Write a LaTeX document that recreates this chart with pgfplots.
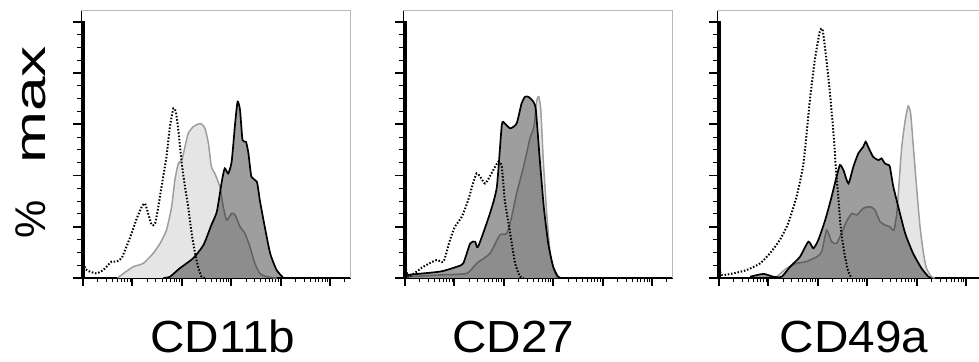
\documentclass[border=0pt]{standalone}
\usepackage{pgfplots}
\pgfplotsset{compat=1.18}
\usepackage{pgfplotstable}
\usepackage{fontspec}
\setmainfont{Liberation Sans}
\definecolor{lightfill}{gray}{0.90}
\definecolor{lightline}{gray}{0.62}
\definecolor{boxline}{gray}{0.72}

% ---------- CD11b ----------
\pgfplotstableread{
x y
0.0 7
0.05 3.5
0.142 2.5
0.277 1.8
0.41 3.1
0.51 5.1
0.58 6.4
0.68 6.4
0.78 7.7
0.88 12.2
0.985 17.4
1.09 23.3
1.19 27.8
1.255 29.1
1.32 25.2
1.39 20.7
1.46 21.3
1.525 27.8
1.59 35.6
1.69 47.3
1.76 59.0
1.83 66.2
1.88 64.9
1.93 57.7
2.0 44.7
2.065 35.6
2.13 27.8
2.2 17.4
2.27 9.6
2.33 4.4
2.4 0.5
2.47 0
}\aDot
\pgfplotstableread{
x y
0.70 0
0.82 1.8
1.02 4.4
1.22 5.7
1.42 9.6
1.56 13.5
1.69 18.7
1.795 27.8
1.86 38.2
1.93 44.7
2.0 46.0
2.065 51.2
2.13 56.4
2.23 59.0
2.335 60.1
2.40 60.1
2.47 58.4
2.54 52.5
2.6 43.4
2.67 40.8
2.77 35.6
2.84 27.8
2.91 22.6
3.01 25.2
3.08 24.6
3.18 20.0
3.28 17.4
3.38 12.2
3.48 5.7
3.58 1.8
3.72 0.5
3.92 0
}\aLight
\pgfplotstableread{
x y
1.63 0
1.76 0.5
1.96 3.8
2.23 7.7
2.44 12.9
2.6 20.7
2.71 25.9
2.81 37.6
2.87 42.8
2.94 40.8
3.01 45.4
3.08 60.3
3.13 68.8
3.18 65.5
3.23 53.8
3.30 53.2
3.35 48.6
3.41 39.5
3.52 37.6
3.58 30.4
3.68 20.0
3.79 9.6
3.92 3.1
4.06 0
}\aDark

% ---------- CD27 ----------
\pgfplotstableread{
x y
0.0 6
0.07 0.5
0.37 4.4
0.64 7.0
0.78 6.4
0.91 14.8
1.01 20.0
1.15 23.9
1.28 30.4
1.45 40.8
1.62 36.9
1.75 40.8
1.89 45.4
1.96 43.4
2.02 30.4
2.13 17.4
2.23 5.7
2.33 0.5
2.40 0
}\bDot
\pgfplotstableread{
x y
0.03 0.5
0.71 1.2
1.25 1.8
1.45 5.7
1.72 9.6
1.92 16.8
2.06 17.4
2.16 23.9
2.26 33.0
2.40 43.4
2.53 54.5
2.61 59.0
2.67 69.4
2.71 70.7
2.75 65.5
2.80 46.0
2.87 25.2
2.94 9.6
3.04 1.8
3.10 0
}\bLight
\pgfplotstableread{
x y
0.03 1.2
0.71 2.5
1.05 4.4
1.18 5.7
1.32 13.5
1.42 14.2
1.48 12.2
1.72 25.2
1.86 35.6
1.96 59.7
2.02 60.3
2.13 58.4
2.26 60.3
2.36 68.1
2.43 70.7
2.50 70.7
2.60 68.8
2.65 65.5
2.73 46.0
2.81 27.8
2.90 13.5
3.0 4.4
3.10 0.5
3.17 0
}\bDark

% ---------- CD49a ----------
\pgfplotstableread{
x y
0.0 5
0.05 1.2
0.29 1.8
0.56 3.1
0.83 5.7
1.03 9.6
1.23 14.8
1.40 21.3
1.57 31.7
1.71 44.7
1.84 69.4
1.94 85.0
2.04 96.1
2.10 96.7
2.19 82.6
2.26 69.4
2.33 53.8
2.36 44.7
2.42 30.4
2.47 18.7
2.54 9.6
2.61 3.1
2.68 0
}\cDot
\pgfplotstableread{
x y
1.17 0.5
1.37 3.8
1.57 5.7
1.77 6.4
1.98 8.3
2.08 10.3
2.18 18.7
2.28 14.2
2.38 13.5
2.48 17.4
2.58 22.0
2.69 25.2
2.79 24.6
2.92 27.2
3.06 27.8
3.16 26.5
3.26 22.0
3.36 20.7
3.46 20.0
3.54 18.7
3.60 25.2
3.65 38.2
3.70 51.2
3.77 61.6
3.83 67.1
3.88 64.2
3.93 52.5
4.0 35.6
4.07 20.0
4.14 9.6
4.20 3.8
4.30 0.5
4.37 0
}\cLight
\pgfplotstableread{
x y
0.63 0.5
0.90 1.6
1.10 0.5
1.27 0.5
1.44 4.4
1.64 8.3
1.81 14.2
1.91 11.6
2.01 14.8
2.15 22.6
2.28 31.7
2.38 39.5
2.45 44.1
2.52 42.1
2.62 36.9
2.72 43.4
2.82 48.6
2.92 51.2
2.97 53.2
3.02 51.2
3.12 47.3
3.23 46.0
3.29 46.7
3.36 44.7
3.43 44.1
3.46 43.4
3.53 35.6
3.63 27.8
3.77 17.4
3.93 9.6
4.10 3.8
4.24 0.5
4.30 0
}\cDark

\pgfplotsset{
  flow/.style={
    scale only axis, width=269.7bp, height=268bp,
    xmin=-0.04, xmax=5.42, ymin=0, ymax=104.6,
    clip=false,
    axis lines*=left, axis line style={-},
    x axis line style={black, line width=1.3bp},
    y axis line style={black, line width=1bp},
    xtick={0,1,2,3,4,5},
    minor xtick={0.301,0.477,0.602,0.699,0.778,0.845,0.903,0.954,
      1.301,1.477,1.602,1.699,1.778,1.845,1.903,1.954,
      2.301,2.477,2.602,2.699,2.778,2.845,2.903,2.954,
      3.301,3.477,3.602,3.699,3.778,3.845,3.903,3.954,
      4.301,4.477,4.602,4.699,4.778,4.845,4.903,4.954,5.301},
    ytick={0,20,40,60,80,100}, minor y tick num=3,
    xticklabels={}, yticklabels={},
    tick align=outside,
    major tick length=8bp, minor tick length=4.5bp,
    major tick style={black, line width=1.9bp},
    minor tick style={black, line width=1bp},
  },
  lightfillst/.style={fill=lightfill, draw=none, smooth, tension=0.35},
  darkfillst/.style={fill=black, fill opacity=0.38, draw=none, smooth, tension=0.35},
  lightlinest/.style={draw=lightline, line width=1.5bp, smooth, tension=0.35},
  darklinest/.style={draw=black, line width=1.7bp, smooth, tension=0.35},
  dotst/.style={draw=black, line width=2bp, dash pattern=on 1.5bp off 1.8bp, smooth, tension=0.35},
}

\newcommand{\flowpanel}[3]{%
  \addplot[lightfillst] table {#2} \closedcycle;
  \addplot[lightlinest] table {#2};
  \addplot[darkfillst] table {#3} \closedcycle;
  \addplot[darklinest] table {#3};
  \addplot[dotst] table {#1};
  \addplot[black, line width=3.2bp] coordinates {(0,0) (0,100.5)};
  \draw[boxline, line width=0.9bp] (rel axis cs:0,1) -- (rel axis cs:1,1) -- (rel axis cs:1,0);
}

\begin{document}
\begin{tikzpicture}
\path[use as bounding box] (0,0) rectangle (979bp,362bp);
\clip (0,0) rectangle (979bp,362bp);

\begin{axis}[flow, at={(81bp,84bp)}, anchor=south west]
\flowpanel{\aDot}{\aLight}{\aDark}
\end{axis}

\begin{axis}[flow, at={(403bp,84bp)}, anchor=south west]
\flowpanel{\bDot}{\bLight}{\bDark}
\end{axis}

\begin{axis}[flow, at={(717bp,84bp)}, anchor=south west]
\flowpanel{\cDot}{\cLight}{\cDark}
\end{axis}

\node[anchor=base, inner sep=0, font=\fontsize{45bp}{45bp}\selectfont] at (223bp,10bp) {\scalebox{1.06}[1]{CD11b}};
\node[anchor=base, inner sep=0, font=\fontsize{45bp}{45bp}\selectfont] at (513.5bp,10bp) {\scalebox{1.06}[1]{CD27}};
\node[anchor=base, inner sep=0, font=\fontsize{45bp}{45bp}\selectfont] at (854bp,10bp) {\scalebox{1.06}[1]{CD49a}};

\node[rotate=90, anchor=base west, inner sep=0, font=\fontsize{43bp}{43bp}\selectfont] at (45bp,123.7bp) {\%};
\node[rotate=90, anchor=base west, inner sep=0, font=\fontsize{43bp}{43bp}\selectfont] at (45bp,198bp) {\scalebox{1.45}[1]{max}};
\end{tikzpicture}
\end{document}
